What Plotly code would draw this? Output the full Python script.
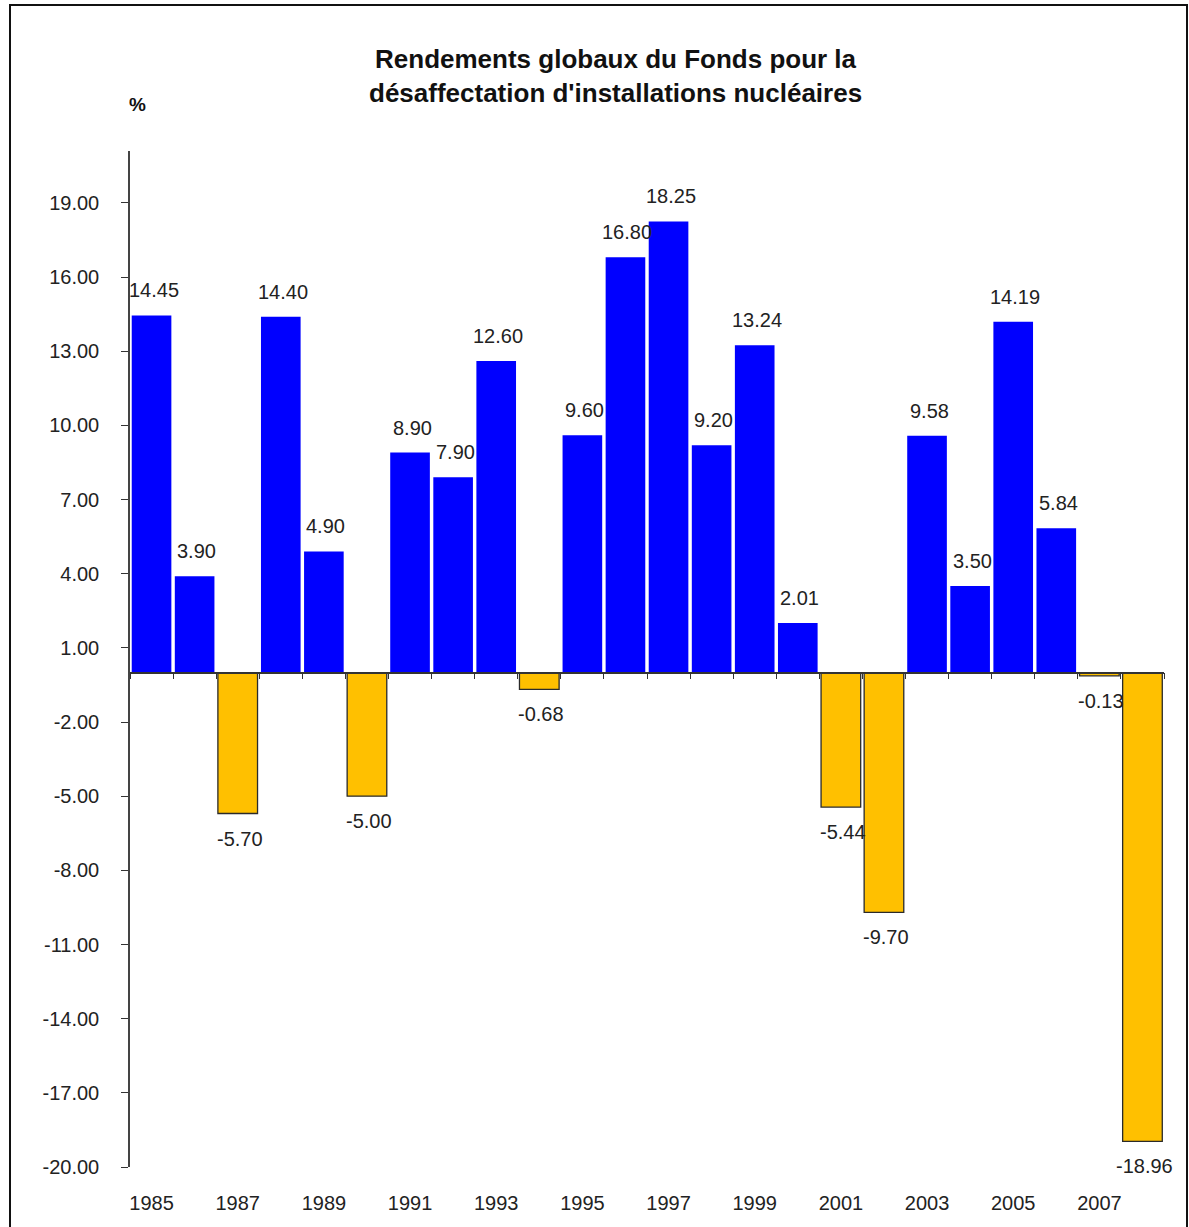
import plotly.graph_objects as go

years = list(range(1985, 2009))
returns = [14.45, 3.90, -5.70, 14.40, 4.90, -5.00, 8.90, 7.90, 12.60, -0.68,
           9.60, 16.80, 18.25, 9.20, 13.24, 2.01, -5.44, -9.70, 9.58, 3.50,
           14.19, 5.84, -0.13, -18.96]
y_ticks = list(range(-20, 20, 3))
x_tick_years = list(range(1985, 2009, 2))

BLUE = "#0000FF"
ORANGE = "#FFC000"
FONT = "Liberation Sans, Arial, sans-serif"
TXT = "#222222"

Y_MIN, Y_MAX = -20, 21.1

colors = [BLUE if v >= 0 else ORANGE for v in returns]
line_colors = [BLUE if v >= 0 else "#2a2a2a" for v in returns]
line_widths = [0 if v >= 0 else 1.3 for v in returns]

fig = go.Figure()
fig.add_trace(go.Bar(
    x=years, y=returns,
    marker=dict(color=colors, line=dict(color=line_colors, width=line_widths)),
    hoverinfo="x+y",
    showlegend=False,
))
# invisible trace to carry the zero-crossing category axis
fig.add_trace(go.Scatter(x=years, y=returns, xaxis="x2", mode="none",
                         hoverinfo="skip", showlegend=False))

annotations = []
for yr, v in zip(years, returns):
    annotations.append(dict(
        x=yr, y=v, xref="x", yref="y", text=f"{v:.2f}", showarrow=False,
        yshift=25 if v >= 0 else -25, xshift=2, yanchor="middle",
        font=dict(family=FONT, size=20, color=TXT),
    ))
annotations.append(dict(
    x=0.47, y=1.0743, xref="paper", yref="paper", showarrow=False,
    text="<b>Rendements globaux du Fonds pour la<br>désaffectation d'installations nucléaires</b>",
    xanchor="center", yanchor="middle",
    font=dict(family=FONT, size=26, color="#111111"),
))
annotations.append(dict(
    x=0.0077, y=1.0453, xref="paper", yref="paper", showarrow=False,
    text="<b>%</b>", xanchor="center", yanchor="middle",
    font=dict(family=FONT, size=19, color="#111111"),
))

boundaries = [y - 0.5 for y in years] + [years[-1] + 0.5]

fig.update_layout(
    width=1189, height=1227,
    margin=dict(l=130, r=25, t=151, b=60),
    paper_bgcolor="white", plot_bgcolor="white",
    bargap=0.08,
    font=dict(family=FONT, size=20, color=TXT),
    annotations=annotations,
    xaxis=dict(
        range=[years[0] - 0.5, years[-1] + 0.5],
        tickvals=x_tick_years, ticktext=[str(y) for y in x_tick_years],
        showline=False, showgrid=False, zeroline=False, ticks="",
        ticklabelstandoff=22,
        tickfont=dict(family=FONT, size=20, color=TXT),
    ),
    xaxis2=dict(
        overlaying="x", anchor="free", position=(0 - Y_MIN) / (Y_MAX - Y_MIN),
        range=[years[0] - 0.5, years[-1] + 0.5],
        tickvals=boundaries, showticklabels=False,
        ticks="outside", ticklen=6, tickcolor="#333333", tickwidth=1.3,
        showline=True, linecolor="#333333", linewidth=1.5,
        showgrid=False, zeroline=False,
    ),
    yaxis=dict(
        range=[Y_MIN, Y_MAX],
        tickvals=y_ticks, ticktext=[f"{t:.2f}" for t in y_ticks],
        ticks="outside", ticklen=7, tickcolor="#333333", tickwidth=1.3,
        showline=True, linecolor="#444444", linewidth=1.5,
        showgrid=False, zeroline=False,
        ticklabelstandoff=18,
        tickfont=dict(family=FONT, size=20, color=TXT),
    ),
    shapes=[dict(
        type="rect", xref="paper", yref="paper",
        x0=(10 - 130) / 1034, x1=(1187 - 130) / 1034,
        y0=(1167 - 1232) / 1016, y1=(1167 - 5) / 1016,
        line=dict(color="#111111", width=2), fillcolor="rgba(0,0,0,0)",
        layer="below",
    )],
)

fig.write_html("out.html", config={"displayModeBar": False},
               post_script="document.body.style.margin='0';")
